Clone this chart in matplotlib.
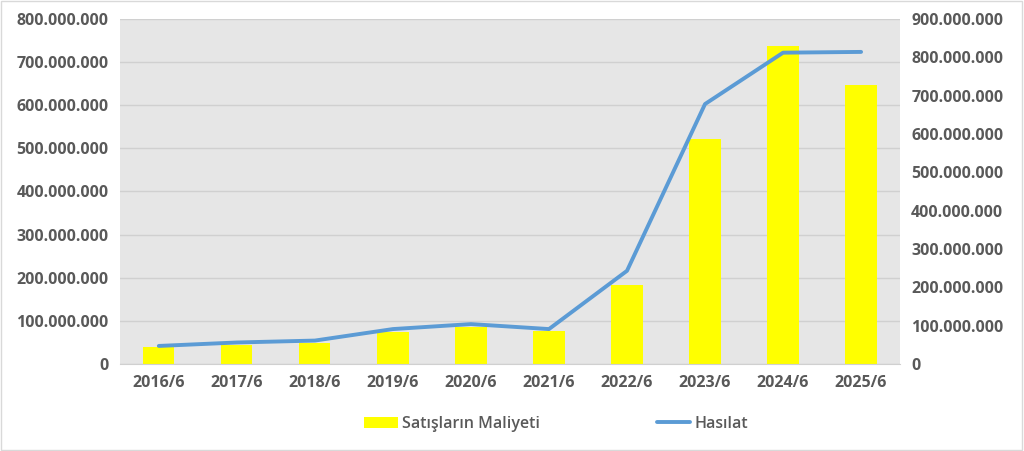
import matplotlib.pyplot as plt
from matplotlib.ticker import FuncFormatter, MultipleLocator
from matplotlib.patches import Rectangle

# Data
years = ["2016/6", "2017/6", "2018/6", "2019/6", "2020/6",
         "2021/6", "2022/6", "2023/6", "2024/6", "2025/6"]
satis_maliyeti = [39e6, 45e6, 49e6, 73e6, 85e6, 76e6, 183e6, 521e6, 738e6, 647e6]
hasilat = [47e6, 56e6, 61e6, 91e6, 104e6, 91e6, 243e6, 678e6, 812e6, 814e6]

plt.rcParams["font.family"] = ["Open Sans", "DejaVu Sans"]
tick_color = "#595959"


def dot_fmt(v, pos):
    return f"{int(round(v)):,}".replace(",", ".")


fig = plt.figure(figsize=(10.24, 4.51), dpi=100)
fig.patches.append(Rectangle((0.001, 0.002), 0.997, 0.995, transform=fig.transFigure,
                             fill=False, edgecolor="#d9d9d9", linewidth=1))

ax = fig.add_axes([0.117, 0.193, 0.762, 0.765])
ax.set_facecolor("#e6e6e6")
x = range(len(years))
bars = ax.bar(x, satis_maliyeti, width=0.4, color="#ffff00", zorder=2)
ax.set_ylim(0, 800e6)
ax.yaxis.set_major_locator(MultipleLocator(100e6))
ax.yaxis.set_major_formatter(FuncFormatter(dot_fmt))
ax.grid(axis="y", color="#d0d0d0", linewidth=1, zorder=0)
ax.set_axisbelow(True)
ax.set_xlim(-0.5, len(years) - 0.5)
ax.set_xticks(list(x))
ax.set_xticklabels(years)
for s in ax.spines.values():
    s.set_visible(False)
ax.spines["bottom"].set_visible(True)
ax.spines["bottom"].set_color("#d0d0d0")
ax.tick_params(length=0, colors=tick_color, labelsize=11.5, pad=8)
for lbl in ax.get_xticklabels() + ax.get_yticklabels():
    lbl.set_fontweight("bold")

ax2 = ax.twinx()
line, = ax2.plot(list(x), hasilat, color="#5b9bd5", linewidth=2.8, solid_capstyle="round")
ax2.set_ylim(0, 900e6)
ax2.yaxis.set_major_locator(MultipleLocator(100e6))
ax2.yaxis.set_major_formatter(FuncFormatter(dot_fmt))
for s in ax2.spines.values():
    s.set_visible(False)
ax2.tick_params(length=0, colors=tick_color, labelsize=11.5, pad=8)
for lbl in ax2.get_yticklabels():
    lbl.set_fontweight("bold")

leg = fig.legend([bars, line], ["Satışların Maliyeti", "Hasılat"], loc="center",
                 bbox_to_anchor=(0.543, 0.06), ncol=2, frameon=False,
                 columnspacing=7.3, handlelength=2.1, handletextpad=0.25,
                 fontsize=11.5, labelcolor=tick_color)
for t in leg.get_texts():
    t.set_fontweight("semibold")

fig.savefig("out.png", dpi=100)
